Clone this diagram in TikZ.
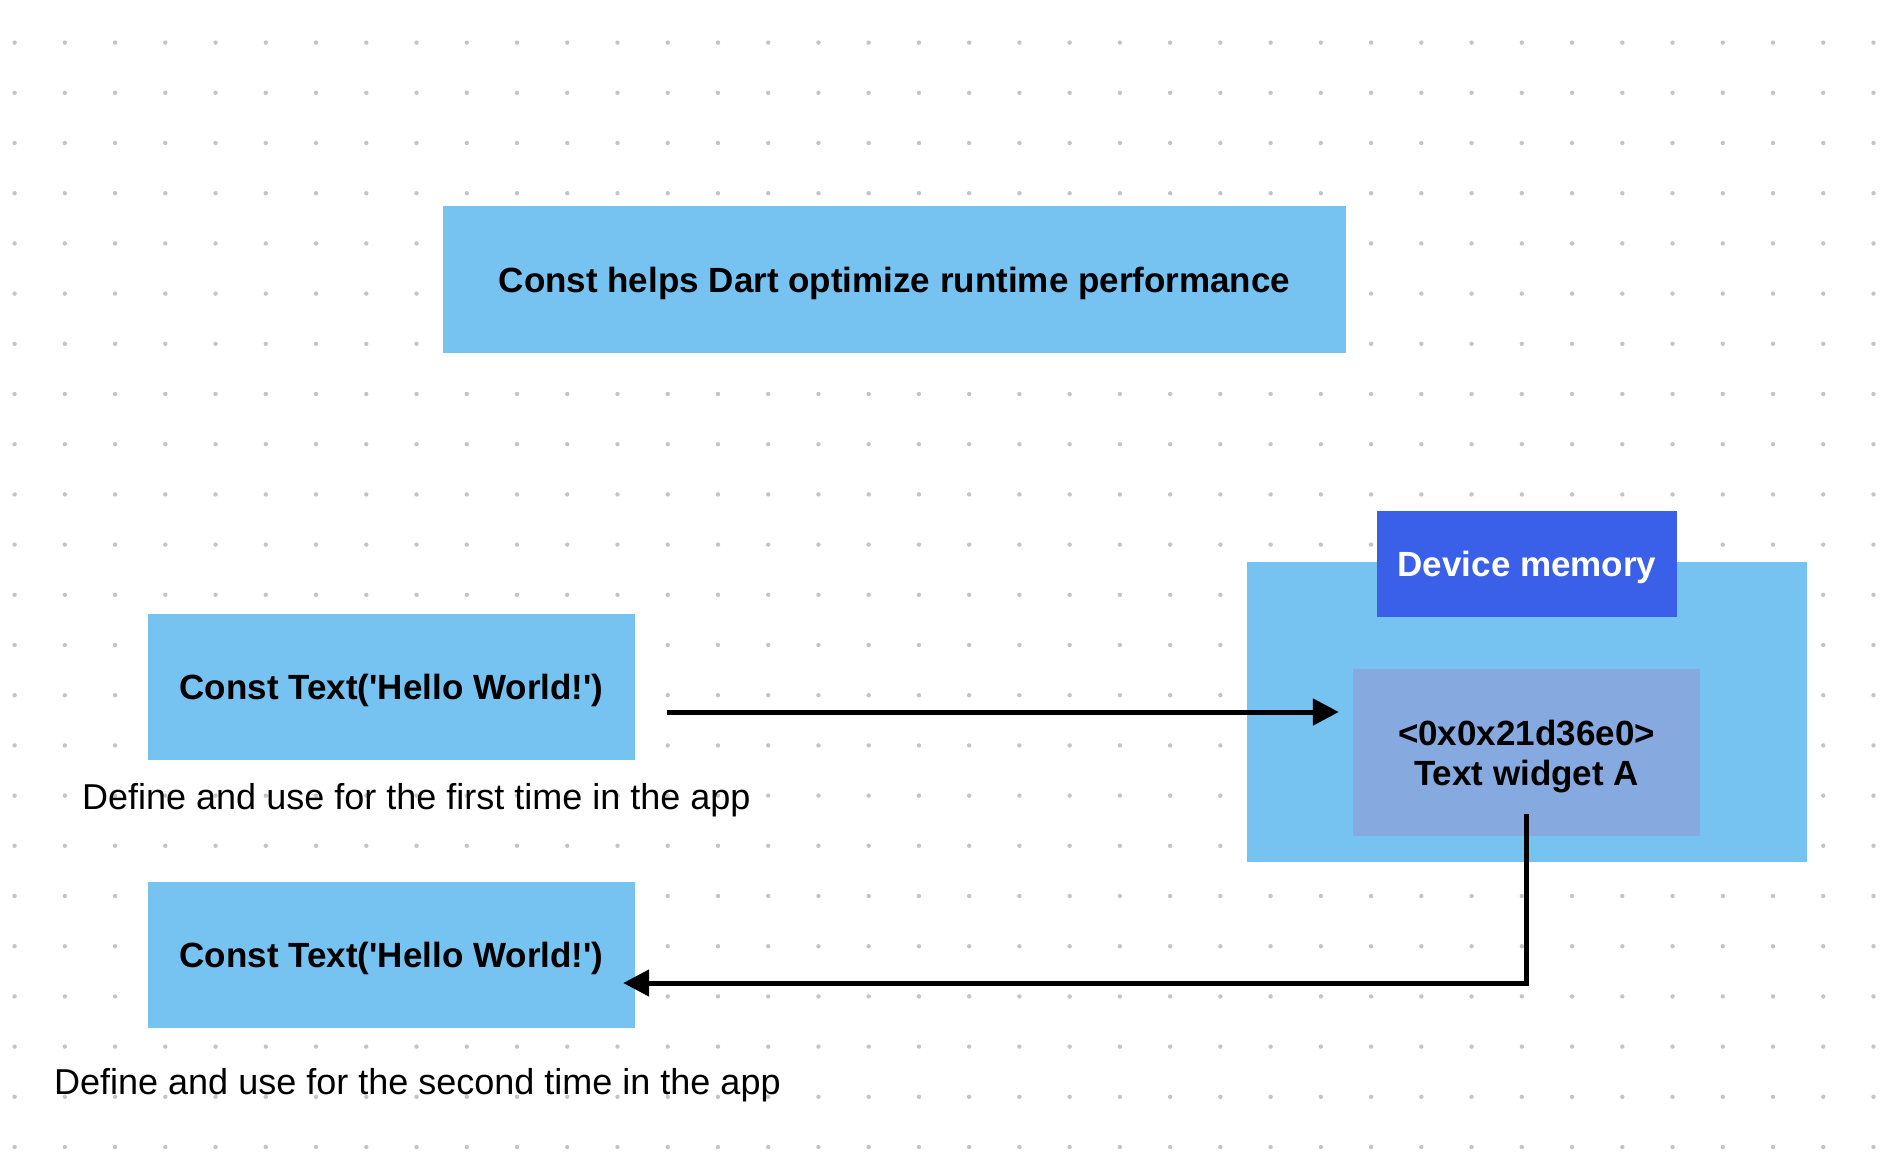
\documentclass[tikz,border=0pt]{standalone}
\usepackage{fontspec}
\setmainfont{Liberation Sans}
\usepackage{tikz}
\usepackage{xcolor}
\usetikzlibrary{arrows.meta}
\definecolor{boxblue}{HTML}{76C2F0}
\definecolor{memblue}{HTML}{3A5FE8}
\definecolor{cellblue}{HTML}{86AAE0}
\definecolor{dotgray}{HTML}{C4C4C4}
\tikzstyle{codebox} = [rectangle, fill=boxblue, inner sep=0pt, text depth=0pt, font=\fontsize{35pt}{40pt}\selectfont\bfseries]
\tikzstyle{caption} = [anchor=base west, inner sep=0pt, font=\fontsize{36pt}{42pt}\selectfont]
\tikzstyle{arrow} = [line width=5pt,-{Triangle[length=26pt,width=26pt]},black]

\begin{document}
\begin{tikzpicture}[x=1pt,y=-1pt]
                    \useasboundingbox (0,0) rectangle (1898,1168);
                    \fill[white] (0,0) rectangle (1898,1168);
                    \foreach \i in {0,...,37}
                        \foreach \j in {0,...,22}
                            \fill[dotgray] (14.6+50.24*\i, 42.6+50.2*\j) circle (2.2pt);

                    \node[codebox, minimum width=903pt, minimum height=147pt] (title) at (894.5,279.5) {Const helps Dart optimize runtime performance};

                    \node[codebox, minimum width=487pt, minimum height=146pt] (hello1) at (391.5,687) {Const Text(\textquotesingle Hello World!\textquotesingle)};
                    \node[caption] (first) at (82,809) {Define and use for the first time in the app};
                    \node[codebox, minimum width=487pt, minimum height=146pt] (hello2) at (391.5,955) {Const Text(\textquotesingle Hello World!\textquotesingle)};
                    \node[caption] (second) at (54,1094) {Define and use for the second time in the app};

                    \node[codebox, minimum width=560pt, minimum height=300pt] (memory) at (1527,712) {};
                    \node[codebox, fill=memblue, text=white, minimum width=300pt, minimum height=106pt] (label) at (1527,564) {Device memory};
                    \node[codebox, fill=cellblue, align=center, minimum width=347pt, minimum height=167pt] (addr) at (1526.5,752.5) {<0x0x21d36e0>\\Text widget A};

                    \draw[arrow] ([xshift=32pt,yshift=-25pt]hello1.east) -- ([xshift=-14pt,yshift=40.5pt]addr.west);
                    \draw[arrow] ([yshift=22pt]addr.south) |- ([xshift=-12pt,yshift=-28pt]hello2.east);
                \end{tikzpicture}
\end{document}
